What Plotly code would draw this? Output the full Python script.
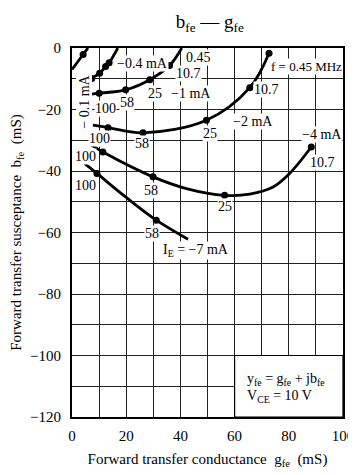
import plotly.graph_objects as go

# ---- data (g_fe, b_fe in mS) ----
c01_g = [0.0, 4.1, 5.9]
c01_b = [-7.0, -2.1, 0.0]
c01_dot_g = [4.1]
c01_dot_b = [-2.1]

c04_g = [6.8, 10.2, 12.4, 13.7, 16.9]
c04_b = [-10.0, -8.2, -6.0, -4.8, 0.0]
c04_dot_g = [7.3, 10.2, 12.4, 13.7]
c04_dot_b = [-9.9, -8.2, -6.0, -4.8]

c1_g = [6.5, 10.0, 19.8, 28.7, 36.0, 40.5]
c1_b = [-15.1, -14.7, -13.6, -10.3, -5.7, 0.0]
c1_dot_g = [10.0, 19.8, 28.7, 36.0]
c1_dot_b = [-14.7, -13.6, -10.3, -5.7]

c2_g = [7.7, 13.3, 26.2, 49.6, 65.6, 72.7]
c2_b = [-25.1, -25.9, -27.6, -23.5, -12.9, -1.7]
c2_dot_g = [13.3, 26.2, 49.6, 65.6, 72.7]
c2_dot_b = [-25.9, -27.6, -23.5, -12.9, -1.7]

c4_g = [7.2, 11.4, 29.9, 42.2, 56.3, 65.6, 74.2, 80.3, 88.3]
c4_b = [-31.6, -33.8, -41.9, -45.7, -47.9, -47.5, -45.2, -40.8, -32.2]
c4_dot_g = [11.4, 29.9, 56.3, 88.3]
c4_dot_b = [-33.8, -41.9, -47.9, -32.2]

c7_g = [4.7, 9.2, 20.0, 31.1, 42.8]
c7_b = [-37.6, -40.8, -48.6, -56.0, -62.2]
c7_dot_g = [9.2, 31.1]
c7_dot_b = [-40.8, -56.0]

# labels: text, g, b
label_text = ["100", "58", "25", "10.7", "0.45", "\u22121 mA", "\u22120.4 mA",
              "100", "58", "25", "10.7", "\u22122 mA",
              "100", "58", "25", "\u22124 mA", "10.7",
              "100", "58", "I<sub>E</sub> = \u22127 mA"]
label_g = [12.3, 20.4, 30.5, 43.1, 46.8, 43.8, 26.0,
           10.2, 25.9, 50.8, 71.7, 66.8,
           5.0, 29.0, 56.6, 92.3, 92.5,
           5.0, 29.6, 45.9]
label_b = [-19.8, -17.6, -14.8, -8.3, -3.0, -14.8, -5.0,
           -29.4, -31.2, -27.7, -13.5, -23.8,
           -35.4, -46.2, -51.7, -28.1, -37.3,
           -44.6, -60.3, -66.0]

x_ticks = [0, 20, 40, 60, 80, 100]
y_ticks = [0, -20, -40, -60, -80, -100, -120]

FONT = "Liberation Serif"

fig = go.Figure()
curves = [
    (c01_g, c01_b, c01_dot_g, c01_dot_b),
    (c04_g, c04_b, c04_dot_g, c04_dot_b),
    (c1_g, c1_b, c1_dot_g, c1_dot_b),
    (c2_g, c2_b, c2_dot_g, c2_dot_b),
    (c4_g, c4_b, c4_dot_g, c4_dot_b),
    (c7_g, c7_b, c7_dot_g, c7_dot_b),
]
for g, b, dg, db in curves:
    fig.add_trace(go.Scatter(x=g, y=b, mode="lines",
                             line=dict(color="black", width=2.8, shape="spline", smoothing=1.0),
                             hoverinfo="skip", showlegend=False, cliponaxis=True))
    fig.add_trace(go.Scatter(x=dg, y=db, mode="markers",
                             marker=dict(color="black", size=7),
                             hoverinfo="skip", showlegend=False, cliponaxis=True))

for t, g, b in zip(label_text, label_g, label_b):
    fig.add_annotation(x=g, y=b, text=t, showarrow=False,
                       font=dict(family=FONT, size=14 if "mA" not in t else 14, color="black"),
                       bgcolor="white", borderpad=0)

fig.add_annotation(x=4.3, y=-17.6, text="\u2212 0.1 mA", showarrow=False, textangle=-90,
                   font=dict(family=FONT, size=14, color="black"), bgcolor="white", borderpad=0)
fig.add_annotation(x=86.5, y=-6.0, text="f = 0.45 MHz", showarrow=False,
                   font=dict(family=FONT, size=13, color="black"), bgcolor="white", borderpad=0)

# info box
fig.add_shape(type="rect", x0=60, x1=100, y0=-120, y1=-100, layer="between",
              fillcolor="white", line=dict(color="black", width=1.2))
fig.add_annotation(x=63.8, y=-107.9, text="y<sub>fe</sub> = g<sub>fe</sub> + jb<sub>fe</sub>",
                   showarrow=False, xanchor="left",
                   font=dict(family=FONT, size=14, color="black"))
fig.add_annotation(x=63.8, y=-113.3, text="V<sub>CE</sub> = 10 V",
                   showarrow=False, xanchor="left",
                   font=dict(family=FONT, size=14, color="black"))

# page body has an 8px margin, so the figure is offset by (8, 8)
fig.update_layout(
    width=348, height=467,
    margin=dict(l=64, r=13, t=40, b=58, autoexpand=False),
    paper_bgcolor="white", plot_bgcolor="white",
    font=dict(family=FONT, size=15, color="black"),
    title=dict(text="b<sub>fe</sub> \u2014 g<sub>fe</sub>", x=0.58, xanchor="center",
               y=0.972, yanchor="middle", font=dict(family=FONT, size=19, color="black")),
)
fig.update_xaxes(range=[0, 100], tickvals=x_ticks, ticktext=[str(v) for v in x_ticks],
                 showgrid=True, gridcolor="#222", gridwidth=1,
                 minor=dict(dtick=10, showgrid=True, gridcolor="#222", gridwidth=1),
                 showline=True, linecolor="black", linewidth=2, mirror=True,
                 zeroline=False, ticks="", ticklabelstandoff=4, automargin=False,
                 tickfont=dict(family=FONT, size=15),
                 title=dict(text="Forward transfer conductance  g<sub>fe</sub>  (mS)",
                            font=dict(family=FONT, size=15), standoff=10))
fig.update_yaxes(range=[-120, 0], tickvals=y_ticks,
                 ticktext=[("\u2212" + str(-v)) if v < 0 else str(v) for v in y_ticks],
                 showgrid=True, gridcolor="#222", gridwidth=1,
                 minor=dict(dtick=10, showgrid=True, gridcolor="#222", gridwidth=1),
                 showline=True, linecolor="black", linewidth=2, mirror=True,
                 zeroline=False, ticks="", ticklabelstandoff=6, automargin=False,
                 tickfont=dict(family=FONT, size=15),
                 title=dict(text="Forward transfer susceptance  b<sub>fe</sub>  (mS)",
                            font=dict(family=FONT, size=15), standoff=6))

fig.write_html("out.html")
